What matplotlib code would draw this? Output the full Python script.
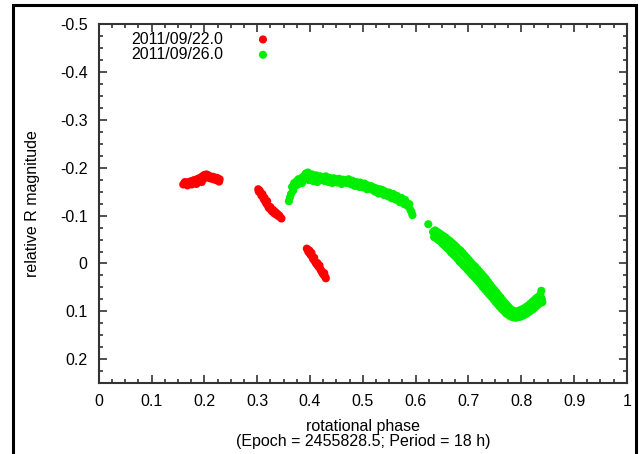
import numpy as np
import matplotlib
matplotlib.use('Agg')
import matplotlib.pyplot as plt
from matplotlib.patches import Rectangle
from matplotlib.ticker import MultipleLocator

plt.rcParams['font.family'] = ['Liberation Sans', 'DejaVu Sans']

# 2011/09/22 session
red_phase = [0.160, 0.163, 0.165, 0.168, 0.170, 0.172, 0.175, 0.176, 0.179, 0.180,
             0.183, 0.185, 0.186, 0.189, 0.190, 0.193, 0.195, 0.196, 0.199, 0.200,
             0.202, 0.204, 0.205, 0.208, 0.210, 0.211, 0.214, 0.216, 0.217, 0.220,
             0.222, 0.224, 0.226, 0.228, 0.229,
             0.302, 0.303, 0.305, 0.307, 0.308, 0.310, 0.311, 0.313, 0.314, 0.316,
             0.318, 0.319, 0.321, 0.322, 0.325, 0.326, 0.328, 0.330, 0.332, 0.334,
             0.336, 0.338, 0.340, 0.342, 0.344, 0.346,
             0.394, 0.396, 0.397, 0.399, 0.400, 0.402, 0.403, 0.405, 0.406, 0.408,
             0.409, 0.411, 0.412, 0.414, 0.415, 0.417, 0.418, 0.420, 0.421, 0.423,
             0.424, 0.426, 0.427, 0.429, 0.430]
red_mag = [-0.165, -0.170, -0.166, -0.163, -0.170, -0.167, -0.172, -0.165, -0.168, -0.174,
           -0.170, -0.166, -0.176, -0.172, -0.178, -0.174, -0.170, -0.182, -0.177, -0.185,
           -0.180, -0.186, -0.182, -0.184, -0.178, -0.182, -0.180, -0.176, -0.181, -0.177,
           -0.174, -0.179, -0.175, -0.171, -0.176,
           -0.155, -0.150, -0.152, -0.147, -0.142, -0.145, -0.138, -0.133, -0.137, -0.128,
           -0.124, -0.130, -0.120, -0.116, -0.118, -0.112, -0.109, -0.112, -0.105, -0.108,
           -0.102, -0.104, -0.099, -0.100, -0.096, -0.094,
           -0.031, -0.028, -0.024, -0.027, -0.020, -0.017, -0.022, -0.013, -0.009, -0.012,
           -0.005, -0.002, 0.001, -0.001, 0.005, 0.008, 0.004, 0.012, 0.015, 0.018,
           0.021, 0.024, 0.020, 0.028, 0.031]

# 2011/09/26 session
green_phase = [0.360, 0.362, 0.364, 0.366, 0.368, 0.370, 0.372, 0.375, 0.377, 0.378,
               0.381, 0.383, 0.385, 0.388, 0.390, 0.392, 0.394, 0.396, 0.398, 0.400,
               0.402, 0.404, 0.406, 0.408, 0.410, 0.412, 0.414, 0.416, 0.418, 0.420,
               0.422, 0.425, 0.428, 0.430, 0.432, 0.435, 0.437, 0.440, 0.442, 0.445,
               0.447, 0.450, 0.452, 0.455, 0.458, 0.460, 0.463, 0.465, 0.468, 0.470,
               0.473, 0.475, 0.478, 0.480, 0.483, 0.485, 0.488, 0.490, 0.493, 0.495,
               0.498, 0.500, 0.503, 0.505, 0.508, 0.510, 0.513, 0.515, 0.518, 0.520,
               0.523, 0.525, 0.528, 0.530, 0.533, 0.535, 0.538, 0.540, 0.543, 0.545,
               0.548, 0.550, 0.553, 0.555, 0.558, 0.560, 0.563, 0.565, 0.568, 0.570,
               0.573, 0.575, 0.578, 0.580, 0.583, 0.585, 0.588, 0.590, 0.592, 0.594,
               0.624,
               0.633, 0.635, 0.637, 0.639, 0.641, 0.643, 0.645, 0.647, 0.649, 0.651,
               0.653, 0.655, 0.657, 0.659, 0.661, 0.663, 0.665, 0.667, 0.669, 0.671,
               0.673, 0.675, 0.677, 0.679, 0.681, 0.683, 0.685, 0.687, 0.689, 0.691,
               0.693, 0.695, 0.697, 0.699, 0.701, 0.703, 0.705, 0.707, 0.709, 0.711,
               0.713, 0.715, 0.717, 0.719, 0.721, 0.723, 0.725, 0.727, 0.729, 0.731,
               0.733, 0.735, 0.737, 0.739, 0.741, 0.743, 0.745, 0.747, 0.749, 0.751,
               0.753, 0.755, 0.757, 0.759, 0.761, 0.763, 0.765, 0.767, 0.769, 0.771,
               0.773, 0.775, 0.777, 0.779, 0.781, 0.783, 0.785, 0.787, 0.789, 0.791,
               0.793, 0.795, 0.797, 0.799, 0.801, 0.803, 0.805, 0.807, 0.809, 0.811,
               0.813, 0.815, 0.817, 0.819, 0.821, 0.823, 0.825, 0.827, 0.829, 0.831,
               0.833, 0.835, 0.836, 0.838, 0.839, 0.840]
green_mag = [-0.130, -0.138, -0.145, -0.160, -0.152, -0.168, -0.162, -0.172, -0.165, -0.176,
             -0.170, -0.178, -0.168, -0.182, -0.176, -0.188, -0.180, -0.190, -0.174, -0.184,
             -0.178, -0.186, -0.172, -0.181, -0.176, -0.184, -0.170, -0.179, -0.174, -0.182,
             -0.175, -0.180, -0.172, -0.182, -0.176, -0.170, -0.179, -0.174, -0.168, -0.178,
             -0.172, -0.176, -0.169, -0.177, -0.171, -0.166, -0.175, -0.170, -0.174, -0.168,
             -0.176, -0.171, -0.165, -0.173, -0.168, -0.162, -0.170, -0.166, -0.160, -0.169,
             -0.164, -0.159, -0.167, -0.161, -0.155, -0.163, -0.158, -0.162, -0.154, -0.159,
             -0.150, -0.157, -0.152, -0.146, -0.155, -0.149, -0.153, -0.143, -0.150, -0.145,
             -0.140, -0.148, -0.143, -0.136, -0.145, -0.139, -0.133, -0.141, -0.135, -0.128,
             -0.137, -0.131, -0.124, -0.133, -0.126, -0.120, -0.124, -0.112, -0.108, -0.101,
             -0.082,
             -0.066, -0.055, -0.069, -0.053, -0.066, -0.049, -0.063, -0.046, -0.060, -0.041,
             -0.057, -0.037, -0.054, -0.033, -0.050, -0.029, -0.047, -0.023, -0.043, -0.019,
             -0.039, -0.015, -0.035, -0.010, -0.030, -0.004, -0.027, 0.000, -0.022, 0.005,
             -0.017, 0.009, -0.012, 0.014, -0.007, 0.019, -0.002, 0.024, 0.003, 0.028,
             0.007, 0.033, 0.012, 0.038, 0.017, 0.043, 0.022, 0.049, 0.027, 0.054,
             0.032, 0.059, 0.038, 0.064, 0.044, 0.069, 0.050, 0.074, 0.055, 0.080,
             0.060, 0.085, 0.066, 0.090, 0.071, 0.095, 0.077, 0.099, 0.082, 0.104,
             0.087, 0.107, 0.092, 0.110, 0.096, 0.112, 0.099, 0.113, 0.100, 0.113,
             0.100, 0.112, 0.098, 0.111, 0.096, 0.109, 0.094, 0.107, 0.091, 0.104,
             0.088, 0.101, 0.084, 0.098, 0.080, 0.095, 0.076, 0.091, 0.072, 0.087,
             0.069, 0.083, 0.066, 0.057, 0.074, 0.081]

fig = plt.figure(figsize=(6.41, 4.54), dpi=100)
ax = fig.add_axes([0.154, 0.156, 0.824, 0.791])

ax.scatter(red_phase, red_mag, s=34, color='#ff0000', edgecolors='none',
           label='2011/09/22.0', zorder=3)
ax.scatter(green_phase, green_mag, s=34, color='#00ee00', edgecolors='none',
           label='2011/09/26.0', zorder=3)

ax.set_xlim(0, 1)
ax.set_ylim(0.25, -0.5)
ax.set_xticks([0, 0.1, 0.2, 0.3, 0.4, 0.5, 0.6, 0.7, 0.8, 0.9, 1.0])
ax.set_xticklabels(['0', '0.1', '0.2', '0.3', '0.4', '0.5', '0.6', '0.7', '0.8', '0.9', '1'])
ax.set_yticks([-0.5, -0.4, -0.3, -0.2, -0.1, 0, 0.1, 0.2])
ax.set_yticklabels(['-0.5', '-0.4', '-0.3', '-0.2', '-0.1', '0', '0.1', '0.2'])
ax.xaxis.set_minor_locator(MultipleLocator(0.025))
ax.yaxis.set_minor_locator(MultipleLocator(0.025))

ax.tick_params(which='both', direction='in', top=True, right=True,
               labelsize=11.5, color='#333333', width=1.2)
ax.tick_params(which='major', length=6, pad=8)
ax.tick_params(which='minor', length=3)
for sp in ax.spines.values():
    sp.set_linewidth(1.5)
    sp.set_color('#333333')

ax.set_ylabel('relative R magnitude', fontsize=11.5, labelpad=14)
ax.set_xlabel('rotational phase\n(Epoch = 2455828.5; Period = 18 h)',
              fontsize=11.5, labelpad=7, linespacing=1.0)

ax.legend(loc='upper left', bbox_to_anchor=(0.04, 1.01), frameon=False,
          markerfirst=False, fontsize=11.5, handlelength=0.6,
          handletextpad=2.2, labelspacing=0.02, scatterpoints=1,
          borderaxespad=0.3)

# outer frame around the whole figure
fig.patches.append(Rectangle((0.021, -0.05), 0.971, 1.039, transform=fig.transFigure,
                             fill=False, edgecolor='black', linewidth=2.2))

fig.savefig('out.png', dpi=100)
